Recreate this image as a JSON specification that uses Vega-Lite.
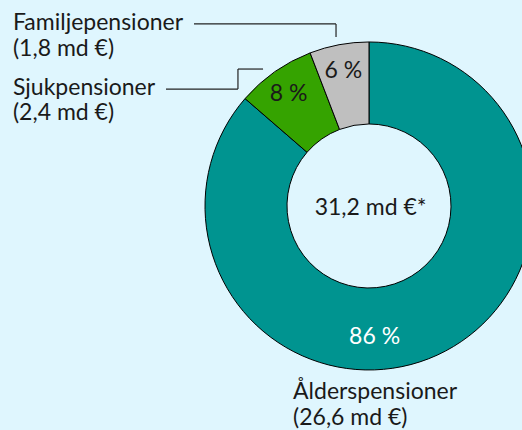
{
  "$schema": "https://vega.github.io/schema/vega-lite/v6.json",
  "width": 522,
  "height": 430,
  "autosize": {"type": "none"},
  "padding": 0,
  "background": "#dff6fe",
  "config": {"view": {"stroke": null}, "text": {"font": "Lato", "fontSize": 22, "fontWeight": 400, "color": "#1a1a1a"}},
  "encoding": {
    "x": {"datum": 0, "type": "quantitative", "scale": {"domain": [-2.25, 0.933], "nice": false, "zero": false}, "axis": null},
    "y": {"datum": 0, "type": "quantitative", "scale": {"domain": [-1.366, 1.256], "nice": false, "zero": false}, "axis": null}
  },
  "layer": [
    {
      "data": {"name": "slices", "values": [
        {"category": "Ålderspensioner", "value": 26.6, "pct": "86 %", "order": 1},
        {"category": "Sjukpensioner", "value": 2.4, "pct": "8 %", "order": 2},
        {"category": "Familjepensioner", "value": 1.8, "pct": "6 %", "order": 3}
      ]},
      "layer": [
        {
          "mark": {"type": "arc", "outerRadius": 164, "innerRadius": 82, "stroke": "#000000", "strokeWidth": 1},
          "encoding": {
            "theta": {"field": "value", "type": "quantitative", "stack": true},
            "order": {"field": "order", "type": "quantitative"},
            "color": {"field": "category", "type": "nominal", "legend": null,
              "scale": {"domain": ["Ålderspensioner", "Sjukpensioner", "Familjepensioner"], "range": ["#009490", "#35a300", "#bfbfbf"]}}
          }
        },
        {
          "mark": {"type": "text", "radius": 140, "fontSize": 23, "fontWeight": 400, "baseline": "middle", "align": "center", "dy": 3},
          "encoding": {
            "theta": {"field": "value", "type": "quantitative", "stack": true},
            "order": {"field": "order", "type": "quantitative"},
            "text": {"condition": {"test": "datum.category !== 'Ålderspensioner'", "field": "pct"}, "value": ""}
          }
        }
      ]
    },
    {
      "data": {"values": [{}]},
      "layer": [
        {
          "mark": {"type": "text", "fontSize": 23, "fontWeight": 400, "align": "center", "baseline": "alphabetic", "color": "#ffffff"},
          "encoding": {"x": {"datum": 0.034}, "y": {"datum": -0.841}, "text": {"value": "86 %"}}
        },
        {
          "mark": {"type": "text", "fontSize": 23, "fontWeight": 400, "align": "center", "baseline": "alphabetic"},
          "encoding": {"x": {"datum": 0.01}, "y": {"datum": -0.055}, "text": {"value": "31,2 md €*"}}
        },
        {
          "mark": {"type": "text", "fontWeight": 400, "fontSize": 23, "align": "left", "baseline": "alphabetic", "lineHeight": 25.5},
          "encoding": {"x": {"datum": -2.171}, "y": {"datum": 1.073}, "text": {"value": ["Familjepensioner", "(1,8 md €)"]}}
        },
        {
          "mark": {"type": "text", "fontWeight": 400, "fontSize": 23, "align": "left", "baseline": "alphabetic", "lineHeight": 25.5},
          "encoding": {"x": {"datum": -2.171}, "y": {"datum": 0.677}, "text": {"value": ["Sjukpensioner", "(2,4 md €)"]}}
        },
        {
          "mark": {"type": "text", "fontWeight": 400, "fontSize": 23, "align": "left", "baseline": "alphabetic", "lineHeight": 26},
          "encoding": {"x": {"datum": -0.463}, "y": {"datum": -1.177}, "text": {"value": ["Ålderspensioner", "(26,6 md €)"]}}
        },
        {
          "mark": {"type": "rule", "color": "#222222", "strokeWidth": 1.2},
          "encoding": {"x": {"datum": -1.067}, "x2": {"datum": -0.201}, "y": {"datum": 1.110}, "y2": {"datum": 1.110}}
        },
        {
          "mark": {"type": "rule", "color": "#222222", "strokeWidth": 1.2},
          "encoding": {"x": {"datum": -0.201}, "x2": {"datum": -0.201}, "y": {"datum": 1.110}, "y2": {"datum": 1.030}}
        },
        {
          "mark": {"type": "rule", "color": "#222222", "strokeWidth": 1.2},
          "encoding": {"x": {"datum": -1.238}, "x2": {"datum": -0.799}, "y": {"datum": 0.713}, "y2": {"datum": 0.713}}
        },
        {
          "mark": {"type": "rule", "color": "#222222", "strokeWidth": 1.2},
          "encoding": {"x": {"datum": -0.799}, "x2": {"datum": -0.799}, "y": {"datum": 0.713}, "y2": {"datum": 0.835}}
        },
        {
          "mark": {"type": "rule", "color": "#222222", "strokeWidth": 1.2},
          "encoding": {"x": {"datum": -0.799}, "x2": {"datum": -0.646}, "y": {"datum": 0.835}, "y2": {"datum": 0.835}}
        }
      ]
    }
  ]
}
